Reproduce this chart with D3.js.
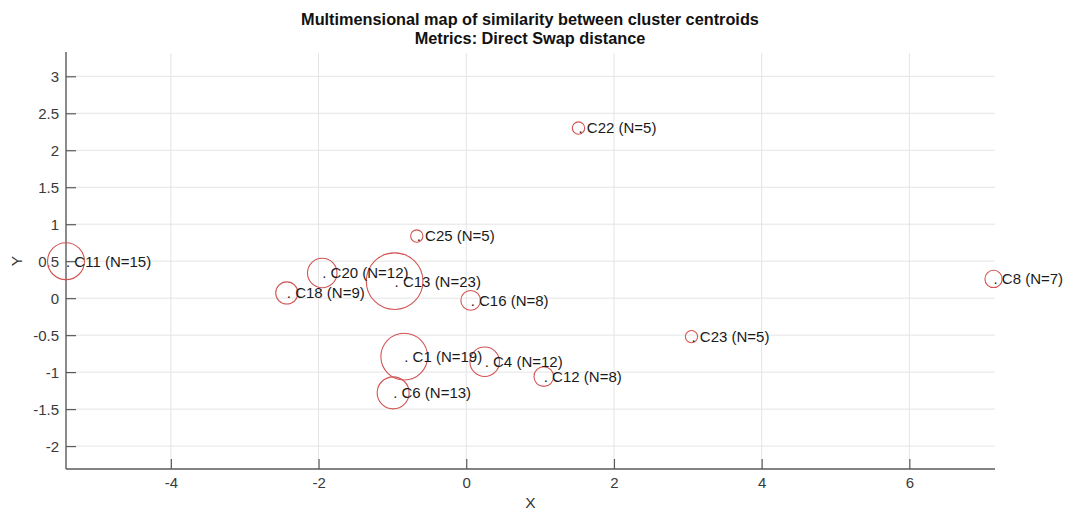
<!DOCTYPE html>
<html>
<head>
<meta charset="utf-8">
<script src="https://cdn.jsdelivr.net/npm/d3@7"></script>
<style>
  html, body { margin: 0; padding: 0; background: #fff; }
  svg { display: block; font-family: "Liberation Sans", Arial, Helvetica, sans-serif; }
</style>
</head>
<body>
<svg id="chart" width="1065" height="512"></svg>
<script>
// Cluster centroids in 2-D MDS space
const clusterNames = ["C11", "C20", "C18", "C13", "C25", "C16", "C1", "C4", "C6", "C12", "C22", "C23", "C8"];
const xValues = [-5.42, -1.95, -2.43, -0.97, -0.67, 0.06, -0.84, 0.25, -0.99, 1.05, 1.52, 3.05, 7.14];
const yValues = [0.50, 0.34, 0.07, 0.23, 0.84, -0.03, -0.79, -0.86, -1.28, -1.06, 2.30, -0.52, 0.26];
const clusterSizes = [15, 12, 9, 23, 5, 8, 19, 12, 13, 8, 5, 5, 7];

// Axis ticks
const xTicks = [-4, -2, 0, 2, 4, 6];
const yTicks = [-2, -1.5, -1, -0.5, 0, 0.5, 1, 1.5, 2, 2.5, 3];

const titleLines = ["Multimensional map of similarity between cluster centroids", "Metrics: Direct Swap distance"];

const svg = d3.select("#chart");
const plotLeft = 66, plotRight = 995, plotTop = 53, plotBottom = 469;

const x = d3.scaleLinear().domain([-5.42, 7.16]).range([plotLeft, plotRight]);
const y = d3.scaleLinear().domain([-2.31, 3.315]).range([plotBottom, plotTop]);
// circle radius is N/60 in data units
const r = d3.scaleLinear().domain([0, 60]).range([0, x(1) - x(0)]);

// plain hyphen for negative tick labels
const fmt = d => String(d);

// grid
const grid = svg.append("g");
grid.selectAll("line.gx").data(xTicks).join("line")
  .attr("x1", d => x(d)).attr("x2", d => x(d))
  .attr("y1", plotTop).attr("y2", plotBottom)
  .attr("stroke", "#e4e4e4").attr("stroke-width", 1);
grid.selectAll("line.gy").data(yTicks).join("line")
  .attr("x1", plotLeft).attr("x2", plotRight)
  .attr("y1", d => y(d)).attr("y2", d => y(d))
  .attr("stroke", "#e4e4e4").attr("stroke-width", 1);

// axes (ticks point inward)
const xAxis = d3.axisBottom(x).tickValues(xTicks).tickSize(-10).tickPadding(8).tickFormat(fmt);
const yAxis = d3.axisLeft(y).tickValues(yTicks).tickSize(-10).tickPadding(7).tickFormat(fmt);

const gx = svg.append("g").attr("transform", `translate(0,${plotBottom})`).call(xAxis);
const gy = svg.append("g").attr("transform", `translate(${plotLeft},0)`).call(yAxis);
gx.select(".domain").attr("d", `M${plotLeft},0H${plotRight}`);
gy.select(".domain").attr("d", `M0,${plotBottom}V${plotTop - 1}`);
[gx, gy].forEach(g => {
  g.select(".domain").attr("stroke", "#5a5a5a").attr("stroke-width", 1.4);
  g.selectAll(".tick line").attr("stroke", "#5a5a5a").attr("stroke-width", 1.2);
  g.selectAll(".tick text").attr("fill", "#3a3a3a")
    .style("font-size", "15px").style("font-family", "'Liberation Sans', Arial, Helvetica, sans-serif");
});
gy.selectAll(".tick text").attr("dy", "0.36em");

// points
const data = clusterNames.map((name, i) => ({ name, x: xValues[i], y: yValues[i], n: clusterSizes[i] }));
const pts = svg.append("g");
pts.selectAll("circle").data(data).join("circle")
  .attr("cx", d => x(d.x)).attr("cy", d => y(d.y)).attr("r", d => r(d.n))
  .attr("fill", "none").attr("stroke", "#d25454").attr("stroke-width", 1.1);
pts.selectAll("text").data(data).join("text")
  .attr("x", d => x(d.x)).attr("y", d => y(d.y)).attr("dy", "0.36em")
  .attr("fill", "#1a1a1a").style("font-size", "15px")
  .text(d => `. ${d.name} (N=${d.n})`);

// title and axis labels
svg.append("g").selectAll("text").data(titleLines).join("text")
  .attr("x", 530).attr("y", (d, i) => 25 + i * 19)
  .attr("text-anchor", "middle").attr("font-weight", "bold")
  .attr("fill", "#111").style("font-size", "16.3px")
  .text(d => d);

svg.append("text").attr("x", (plotLeft + plotRight) / 2).attr("y", 508)
  .attr("text-anchor", "middle").attr("fill", "#333").style("font-size", "15.5px").text("X");
svg.append("text").attr("transform", `translate(22,${(plotTop + plotBottom) / 2}) rotate(-90)`)
  .attr("text-anchor", "middle").attr("fill", "#333").style("font-size", "15.5px").text("Y");
</script>
</body>
</html>
